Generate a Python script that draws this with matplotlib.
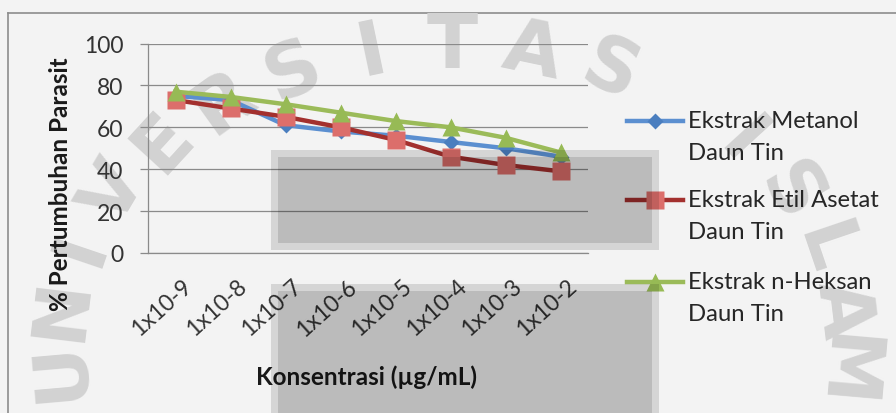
import numpy as np
import matplotlib
matplotlib.use("Agg")
import matplotlib.pyplot as plt
from matplotlib.patches import Rectangle
from matplotlib.lines import Line2D
from matplotlib.transforms import ScaledTranslation

# ---- data -------------------------------------------------------------
categories = ["1x10-9", "1x10-8", "1x10-7", "1x10-6",
              "1x10-5", "1x10-4", "1x10-3", "1x10-2"]
metanol = [75, 73, 61, 58, 56, 53, 50, 46]
etil_asetat = [73, 69, 65, 60, 54, 46, 42, 39]
n_heksan = [77, 74.5, 71, 67, 63, 60, 55, 48]
series_names = ["Ekstrak Metanol", "Ekstrak Etil Asetat", "Ekstrak n-Heksan"]
series_sub = "Daun Tin"
y_ticks = [0, 20, 40, 60, 80, 100]
seal_text = "UNIVERSITAS ISLAM"

FONT = "Lato"
W, H = 896, 414

fig = plt.figure(figsize=(W / 100, H / 100), dpi=100, facecolor="#f3f3f3")

# background layer (pixel coordinates, y down)
bg = fig.add_axes([0, 0, 1, 1], zorder=0)
bg.set_xlim(0, W)
bg.set_ylim(H, 0)
bg.axis("off")

# faint circular seal lettering behind the chart
cx, cy, rx, ry = 452, 345, 392, 298
angles = np.linspace(185, -5, len(seal_text))
for ch, a in zip(seal_text, angles):
    t = np.deg2rad(a)
    px = cx + rx * np.cos(t)
    py = cy - ry * np.sin(t)
    bg.text(px, py, ch, fontsize=54, fontweight="bold", family="DejaVu Sans",
            color="#d2d2d2", ha="center", va="center", rotation=a - 90)

# chart border
bg.plot([8, W], [14, 14], color="#8c8c8c", lw=1.2)
bg.plot([8, 8], [14, H], color="#8c8c8c", lw=1.2)

# ---- plot area ---------------------------------------------------------
left, right, top, bottom = 148, 588, 44.5, 254
ax = fig.add_axes([left / W, (H - bottom) / H, (right - left) / W, (bottom - top) / H],
                  zorder=2)
ax.set_facecolor("none")

x = np.arange(len(categories))
ax.plot(x, metanol, color="#5b8fd0", lw=3.2, marker="D", ms=8,
        mfc="#4a7ebf", mec="none", zorder=3)
ax.plot(x, etil_asetat, color="#a3302e", lw=3.2, marker="s", ms=12.5,
        mfc="#dc6e6b", mec="none", zorder=4)
ax.plot(x, n_heksan, color="#9bbb59", lw=3.2, marker="^", ms=13.5,
        mfc="#97ba55", mec="none", zorder=5)

ax.set_xlim(-0.5, len(categories) - 0.5)
ax.set_ylim(0, 100)
ax.set_yticks(y_ticks)
ax.yaxis.grid(True, color="#8a8a8a", lw=0.9)
ax.set_axisbelow(True)
for s in ["top", "right"]:
    ax.spines[s].set_visible(False)
for s in ["left", "bottom"]:
    ax.spines[s].set_color("#8a8a8a")
    ax.spines[s].set_linewidth(0.9)

ax.tick_params(axis="y", length=5.8, width=0.9, color="#8a8a8a", pad=12,
               labelsize=16.5, labelcolor="#333333")
ax.tick_params(axis="x", length=0, pad=16, labelsize=16.5, labelcolor="#333333")
for lab in ax.get_yticklabels():
    lab.set_family(FONT)

ax.set_xticks(x)
ax.set_xticklabels(categories, rotation=42, ha="right", va="top",
                   rotation_mode="anchor", family=FONT)
shift = ScaledTranslation(6 / 100, 0, fig.dpi_scale_trans)
for lab in ax.get_xticklabels():
    lab.set_transform(lab.get_transform() + shift)

# axis titles
bg.text(367, 377, "Konsentrasi (µg/mL)", fontsize=17.5, fontweight="bold",
        family=FONT, color="#1a1a1a", ha="center", va="center", zorder=3)
bg.text(61, 184, "% Pertumbuhan Parasit", fontsize=17.5, fontweight="bold",
        family=FONT, color="#1a1a1a", ha="center", va="center", rotation=90,
        zorder=3)

# ---- legend -------------------------------------------------------------
leg_styles = [
    dict(color="#5b8fd0", marker="D", ms=8, mfc="#4a7ebf"),
    dict(color="#a3302e", marker="s", ms=12.5, mfc="#dc6e6b"),
    dict(color="#9bbb59", marker="^", ms=13.5, mfc="#97ba55"),
]
leg_y = [122, 201, 283]
for name, st, yy in zip(series_names, leg_styles, leg_y):
    bg.add_line(Line2D([627, 683], [yy, yy], color=st["color"], lw=3.2, zorder=3))
    bg.add_line(Line2D([655], [yy], marker=st["marker"], ms=st["ms"],
                       mfc=st["mfc"], mec="none", lw=0, zorder=4))
    bg.text(688, yy, name, fontsize=17.2, family=FONT, color="#262626",
            ha="left", va="center", zorder=3)
    bg.text(688, yy + 31.5, series_sub, fontsize=17.2, family=FONT,
            color="#262626", ha="left", va="center", zorder=3)

# ---- shaded panels laid over the figure --------------------------------
fg = fig.add_axes([0, 0, 1, 1], zorder=10)
fg.set_facecolor("none")
fg.set_xlim(0, W)
fg.set_ylim(H, 0)
fg.axis("off")
for (x0, y0, x1, y1) in [(271, 151, 659, 251), (278, 158, 652, 244),
                         (271, 285, 659, H + 5), (278, 292, 652, H + 5)]:
    fg.add_patch(Rectangle((x0, y0), x1 - x0, y1 - y0, facecolor="black",
                           edgecolor="none", alpha=0.12))

fig.savefig("out.png", dpi=100, facecolor=fig.get_facecolor())
